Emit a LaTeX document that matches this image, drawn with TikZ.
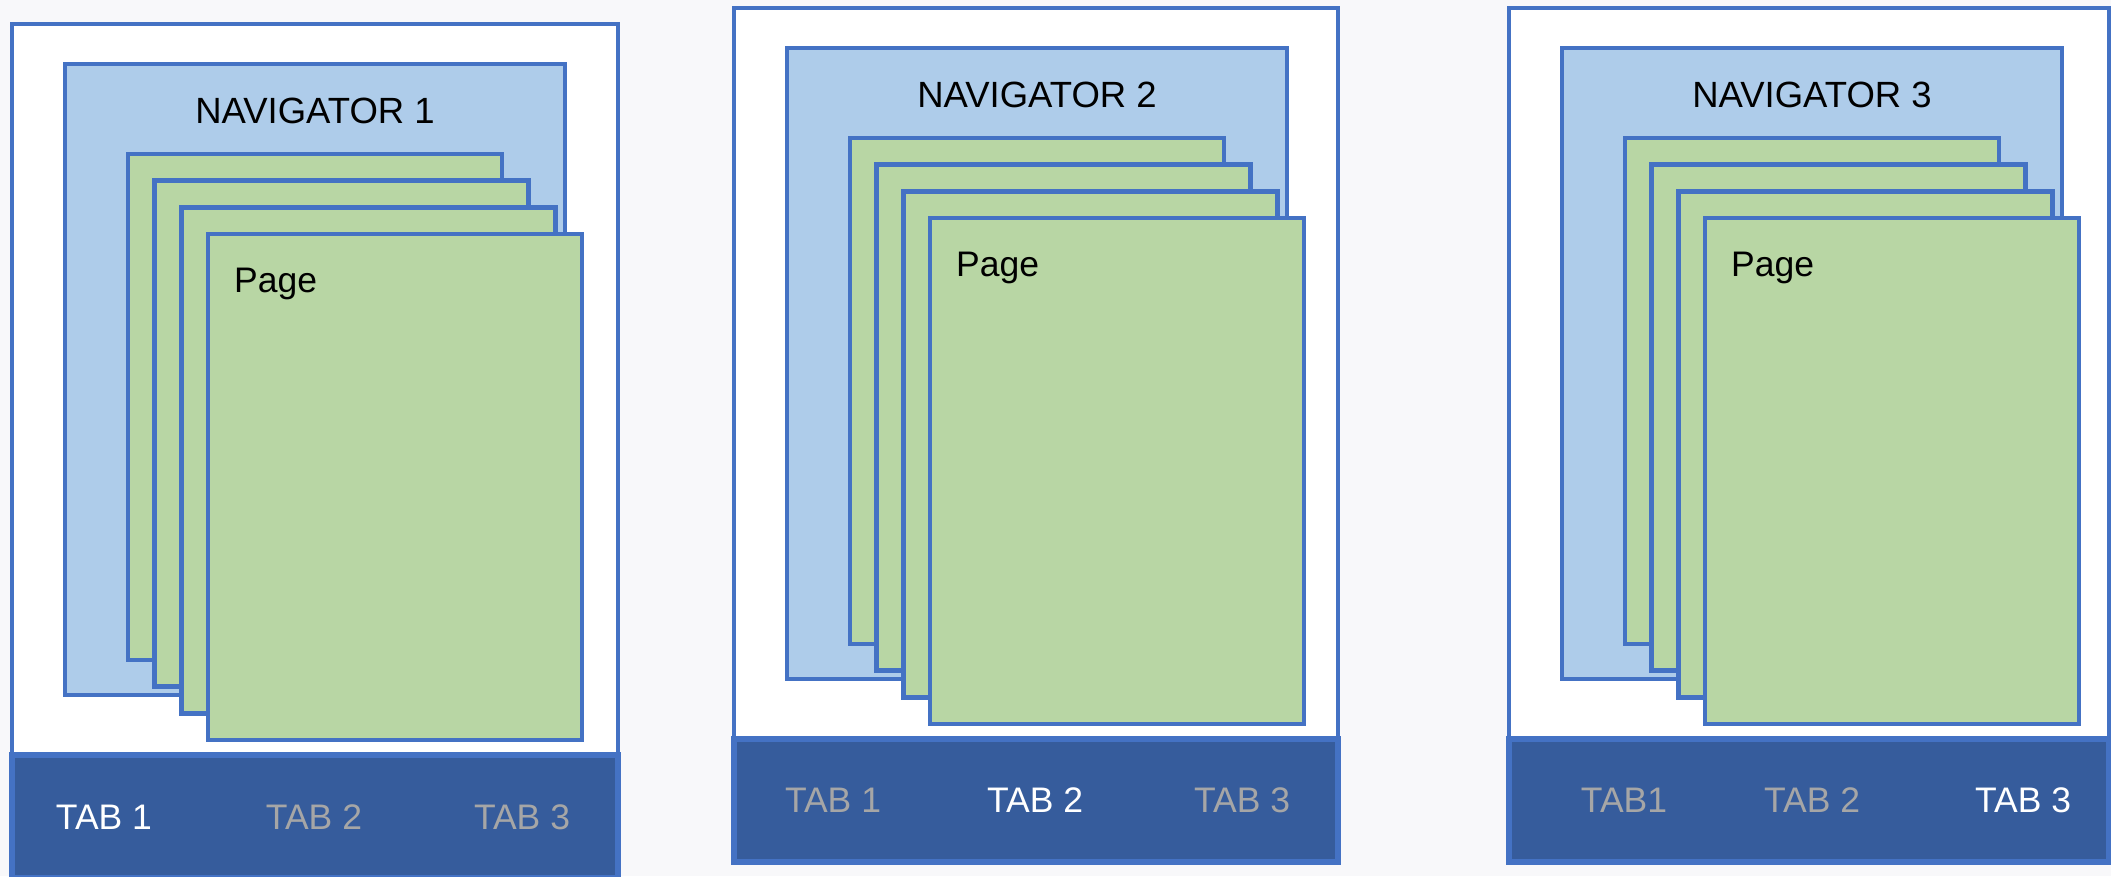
\documentclass[tikz,border=0pt]{standalone}
\usepackage{fontspec}
\setmainfont{Liberation Sans}
\definecolor{bg}{HTML}{F8F8FA}
\definecolor{edge}{HTML}{4472C4}
\definecolor{navfill}{HTML}{AECCEA}
\definecolor{pagefill}{HTML}{B8D6A4}
\definecolor{barfill}{HTML}{365C9C}
\definecolor{offtxt}{HTML}{A6A6A6}
\tikzset{
  frame/.style={draw=edge,fill=white,line width=4.5pt},
  tabbar/.style={draw=edge,fill=barfill,line width=6pt},
  navbox/.style={draw=edge,fill=navfill,line width=4.5pt},
  pagebox/.style={draw=edge,fill=pagefill,line width=4.5pt},
  navtxt/.style={anchor=base,inner sep=0pt,font=\fontsize{36.5}{40}\selectfont,text=black},
  pagetxt/.style={anchor=base west,inner sep=0pt,font=\fontsize{35.5}{40}\selectfont,text=black},
  tabon/.style={anchor=base,inner sep=0pt,font=\fontsize{35.5}{40}\selectfont,text=white},
  taboff/.style={anchor=base,inner sep=0pt,font=\fontsize{35.5}{40}\selectfont,text=offtxt},
}
\newcommand\onepanel[9]{%
  \begin{scope}[shift={(#1,#2)}]
    \draw[frame] (0,0) rectangle (#3,731);
    \draw[tabbar] (0,731) rectangle (#3,854);
    \draw[navbox] (53,40) rectangle (553,671);
    \foreach \i in {0,1,2,3}
      \draw[pagebox] ({116+26.67*\i},{130+26.67*\i}) rectangle ++(374,506);
    \node[navtxt] (nav#4) at (303,99) {NAVIGATOR #4};
    \node[pagetxt] (page#4) at (222,268) {Page};
    #5
  \end{scope}}
\begin{document}
\begin{tikzpicture}[x=1pt,y=-1pt]
\useasboundingbox (0,0) rectangle (2111,876);
\fill[bg] (0,0) rectangle (2111,876);
\onepanel{12}{24}{606}{1}{%
  \node[tabon] (tabA1) at (92,805) {TAB 1};
  \node[taboff] (tabA2) at (302,805) {TAB 2};
  \node[taboff] (tabA3) at (510,805) {TAB 3};}{}{}{}{}
\onepanel{734}{8}{604}{2}{%
  \node[taboff] (tabB1) at (99,804) {TAB 1};
  \node[tabon] (tabB2) at (301,804) {TAB 2};
  \node[taboff] (tabB3) at (508,804) {TAB 3};}{}{}{}{}
\onepanel{1509}{8}{600}{3}{%
  \node[taboff] (tabC1) at (115,804) {TAB1};
  \node[taboff] (tabC2) at (303,804) {TAB 2};
  \node[tabon] (tabC3) at (514,804) {TAB 3};}{}{}{}{}
\end{tikzpicture}
\end{document}
